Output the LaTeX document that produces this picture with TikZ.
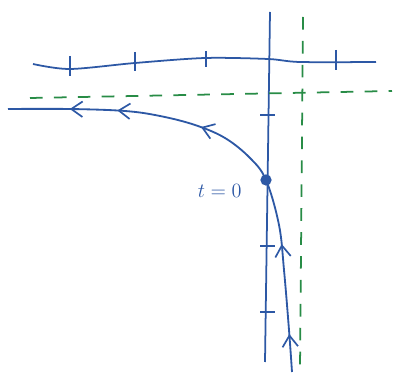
\documentclass[tikz,border=0pt]{standalone}
\usetikzlibrary{arrows.meta,decorations.markings,positioning}

\definecolor{inkblue}{RGB}{45,88,165}
\definecolor{inkgreen}{RGB}{40,140,70}

\tikzset{
  axis/.style={inkblue, line width=1.25pt},
  guide/.style={inkgreen, line width=1.25pt, dash pattern=on 9pt off 8pt},
  orbit/.style={inkblue, line width=1.3pt},
  dot/.style={circle, fill=inkblue, inner sep=0pt, minimum size=8pt},
  flowarrows/.style={postaction={decorate}, decoration={markings,
    mark=at position 0.08 with {\arrow{Straight Barb[length=8pt,width=11pt,line width=1.2pt]}},
    mark=at position 0.27 with {\arrow{Straight Barb[length=8pt,width=11pt,line width=1.2pt]}},
    mark=at position 0.59 with {\arrow{Straight Barb[length=8pt,width=11pt,line width=1.2pt]}},
    mark=at position 0.77 with {\arrow{Straight Barb[length=8pt,width=11pt,line width=1.2pt]}},
    mark=at position 0.87 with {\arrow{Straight Barb[length=8pt,width=11pt,line width=1.2pt]}}}}
}

\begin{document}
\begin{tikzpicture}[x=0.025cm, y=-0.025cm]
  \useasboundingbox (0,0) rectangle (396,373);
  % axes
  \draw[axis] plot[smooth] coordinates {(33,64) (70,69) (135,63) (205,58) (268,59) (300,62) (376,62)};
  \draw[axis] (270,12) -- (265,362);
  % ticks on the horizontal axis
  \foreach \tx/\ta/\tb in {70/56/76, 135/52/71, 206/51/67, 336/50/70}
    \draw[axis] (\tx,\ta) -- (\tx,\tb);
  % ticks on the vertical axis
  \foreach \ty in {115, 246, 312}
    \draw[axis] (260,\ty) -- (275,\ty);
  % dashed guide lines
  \draw[guide] (30,98) -- (392,91);
  \draw[guide] (303,17) -- (300,370);
  % the orbit through the start point
  \coordinate (start) at (266,180);
  \draw[orbit, flowarrows] plot[smooth, tension=0.6] coordinates {(292,372) (289,330) (284,270) (279,225) (start) (250,158) (225,138) (195,125) (160,116) (125,111) (70,109) (8,109)};
  \node[dot] (t0) at (start) {};
  \node[inkblue, font=\Large, left=13pt of t0, yshift=-8pt, inner sep=0pt] (t0label) {$t=0$};
\end{tikzpicture}
\end{document}
